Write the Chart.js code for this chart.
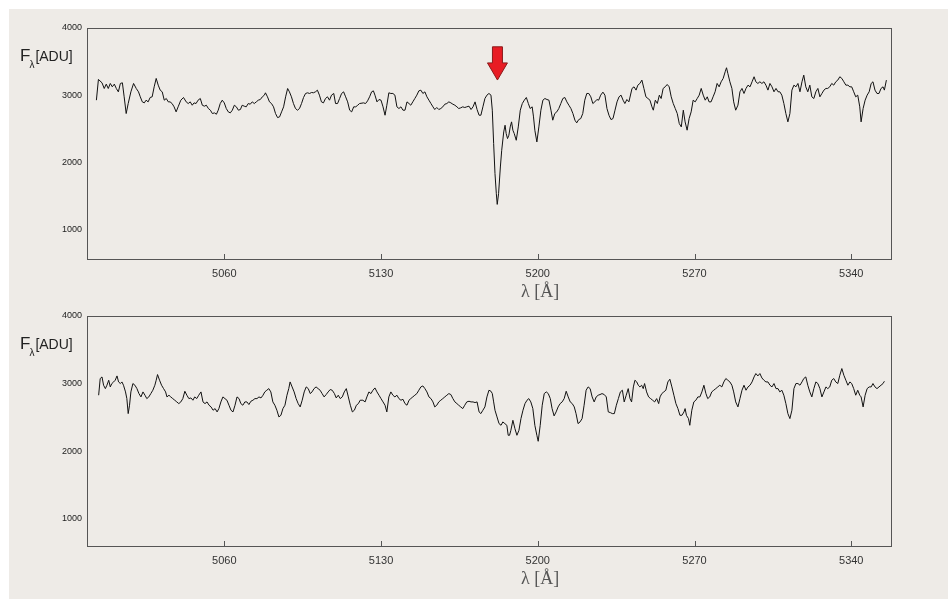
<!DOCTYPE html>
<html>
<head>
<meta charset="utf-8">
<script src="https://cdn.jsdelivr.net/npm/chart.js@4"></script>
<style>
  html, body { margin: 0; padding: 0; background: #fff; }
  #panel { position: absolute; left: 9px; top: 9px; width: 939px; height: 590px; background: #EEEBE7; }
  canvas { position: absolute; left: 9px; }
  .flab { position: absolute; left: 20px; font-family: "Liberation Sans", Arial, sans-serif; color: #222; line-height: 17px; white-space: nowrap; }
  .flab .f { font-size: 17px; }
  .flab .sub { font-size: 10px; position: relative; top: 7px; left: -1px; }
  .flab .u { font-size: 14px; }
  .xlab { position: absolute; left: 521px; font-family: "Liberation Serif", "Times New Roman", serif; font-size: 18px; color: #555; line-height: 18px; white-space: nowrap; }
</style>
</head>
<body>
<div id="panel"></div>
<canvas id="top" width="939" height="292" style="top:8px"></canvas>
<canvas id="bottom" width="939" height="291" style="top:296px"></canvas>
<div class="flab" style="top:47px"><span class="f">F</span><span class="sub">λ</span><span class="u">[ADU]</span></div>
<div class="flab" style="top:335px"><span class="f">F</span><span class="sub">λ</span><span class="u">[ADU]</span></div>
<div class="xlab" style="top:282px">λ [Å]</div>
<div class="xlab" style="top:569px">λ [Å]</div>
<script>
// axes
const xTicks = [5060, 5130, 5200, 5270, 5340];
const yTicks = [1000, 2000, 3000, 4000];
const xMin = 4998.7, xMax = 5358.2;
const topYMin = 545, bottomYMin = 580, yMax = 4000;

// marked line (red arrow in the upper panel)
const arrowLambda = 5182;
const arrowFlux = [3720, 3480, 3225]; // shaft top, head base, tip

// upper spectrum
const topWave = [
  5002.9,5003.8,5005.4,5006.4,5007.3,5008.2,5009.1,5010.0,5010.9,5011.8,5012.7,5013.6,5014.5,5015.3,5016.2,5017.1,
  5018.3,5019.5,5020.7,5021.7,5022.5,5023.4,5024.3,5025.1,5026.0,5026.9,5027.8,5028.7,5029.6,5030.5,5031.4,5032.3,
  5033.2,5034.1,5035.0,5035.8,5036.7,5037.6,5038.5,5039.4,5040.6,5041.8,5043.0,5043.9,5044.8,5045.7,5046.5,5047.4,
  5048.3,5049.3,5050.2,5051.1,5052.0,5052.9,5053.8,5054.7,5055.6,5056.5,5057.3,5058.2,5059.1,5060.0,5060.9,5061.8,
  5062.7,5063.6,5064.5,5065.4,5066.3,5067.2,5068.0,5068.9,5069.8,5070.7,5071.6,5072.5,5073.4,5074.3,5075.2,5076.1,
  5077.0,5077.9,5078.4,5079.3,5080.2,5081.1,5082.0,5082.9,5083.8,5084.7,5085.6,5086.5,5087.4,5088.3,5089.1,5090.0,
  5090.9,5091.8,5092.7,5093.6,5094.5,5095.4,5096.3,5097.2,5098.1,5099.0,5099.8,5100.7,5101.6,5102.5,5103.4,5104.3,
  5105.2,5106.1,5107.0,5107.9,5108.9,5109.7,5110.6,5111.5,5112.4,5113.3,5114.2,5115.1,5116.0,5116.9,5117.8,5118.7,
  5119.6,5120.4,5122.2,5123.1,5124.0,5124.9,5125.8,5126.6,5127.3,5128.2,5129.1,5130.0,5130.9,5131.8,5132.6,5133.5,
  5134.4,5135.3,5136.2,5137.1,5138.0,5138.9,5139.8,5140.7,5141.6,5142.5,5143.3,5144.2,5145.1,5146.0,5146.9,5147.8,
  5148.7,5149.6,5150.5,5151.4,5152.3,5153.2,5154.0,5154.9,5155.8,5156.7,5157.6,5158.5,5159.4,5160.3,5161.2,5162.1,
  5163.0,5163.9,5164.7,5165.6,5166.5,5167.4,5168.3,5169.3,5170.2,5171.1,5172.0,5172.9,5173.8,5174.6,5175.5,5176.4,
  5177.3,5178.2,5179.1,5179.7,5180.3,5180.9,5181.5,5181.9,5182.5,5183.3,5183.9,5184.8,5185.4,5185.9,5186.5,5187.1,
  5187.7,5188.3,5188.9,5189.5,5190.4,5191.3,5192.2,5193.1,5194.0,5194.9,5195.8,5196.6,5197.5,5198.1,5198.7,5199.6,
  5200.5,5201.4,5202.3,5203.2,5204.1,5205.0,5205.9,5206.7,5207.6,5208.5,5209.4,5210.3,5211.2,5212.1,5213.0,5213.9,
  5214.8,5215.7,5216.6,5217.4,5218.3,5219.2,5220.1,5221.0,5221.9,5222.8,5223.7,5224.6,5225.5,5226.4,5227.2,5228.1,
  5229.1,5230.0,5230.9,5231.8,5232.7,5233.6,5234.5,5235.4,5236.3,5237.2,5238.1,5238.9,5239.8,5240.7,5242.1,5243.0,
  5243.9,5244.7,5245.6,5246.5,5247.4,5248.3,5249.2,5250.1,5251.0,5251.6,5252.5,5253.4,5254.3,5255.1,5256.0,5256.9,
  5257.8,5258.7,5259.6,5260.5,5261.4,5262.3,5263.2,5264.1,5265.0,5265.8,5266.7,5267.6,5268.5,5269.4,5270.3,5271.2,
  5272.1,5273.0,5273.9,5274.8,5275.7,5276.5,5277.4,5278.3,5279.2,5280.1,5281.0,5281.9,5282.8,5283.7,5284.3,5284.9,
  5285.8,5286.7,5287.5,5288.4,5289.4,5290.3,5291.2,5292.1,5293.0,5293.9,5294.8,5295.7,5296.6,5297.4,5298.3,5299.2,
  5300.1,5301.0,5301.9,5302.8,5303.7,5304.6,5305.5,5306.4,5307.3,5308.1,5309.0,5309.9,5310.8,5311.7,5312.6,5313.5,
  5314.4,5315.3,5316.2,5317.1,5318.0,5318.8,5319.7,5320.6,5321.5,5322.4,5323.3,5324.2,5325.1,5326.0,5326.9,5327.8,
  5328.7,5329.5,5330.4,5331.3,5332.2,5333.1,5334.0,5334.9,5335.8,5336.7,5337.6,5338.5,5339.4,5340.2,5341.1,5342.0,
  5342.9,5343.8,5344.4,5345.3,5346.2,5347.1,5348.0,5348.9,5349.7,5350.6,5351.5,5352.4,5353.3,5354.2,5354.8,5355.7
];
const topFlux = [
  2925,3234,3184,3099,3164,3099,3174,3124,3164,3099,3049,3174,3184,2975,2726,2875,
  3049,3174,3099,3049,2975,2900,2885,2925,2900,2965,2975,3124,3249,3149,3074,3049,
  2925,2950,2900,2900,2875,2826,2751,2826,2925,2965,2900,2875,2900,2850,2885,2875,
  2925,2950,2850,2836,2850,2801,2776,2726,2736,2716,2776,2875,2925,2885,2801,2751,
  2736,2776,2850,2826,2776,2786,2850,2836,2826,2875,2865,2900,2875,2900,2925,2935,
  2975,3000,3035,2975,2900,2875,2826,2726,2666,2676,2751,2826,2975,3099,3049,2975,
  2875,2801,2776,2801,2875,2965,3025,3035,3025,3040,3035,3049,3074,3000,2900,2885,
  2950,2975,2925,3000,3025,2875,2875,2950,3025,3049,2975,2900,2776,2751,2826,2826,
  2850,2875,2885,2875,2915,2975,3049,3064,3000,2900,2935,2925,2826,2701,2850,3035,
  3025,3025,3000,2826,2801,2826,2776,2776,2900,2875,2850,2900,2950,3000,3064,3074,
  3025,3049,2975,2925,2875,2826,2786,2816,2786,2801,2826,2865,2875,2900,2885,2865,
  2850,2826,2801,2811,2826,2816,2826,2836,2786,2826,2900,2786,2701,2701,2826,2950,
  3000,3025,3000,2776,2278,1831,1532,1373,1532,1930,2179,2452,2552,2428,2353,2403,
  2527,2602,2477,2428,2328,2527,2776,2875,2925,2965,2875,2801,2826,2676,2477,2303,
  2527,2776,2925,2950,2935,2925,2776,2627,2726,2751,2801,2875,2950,2965,2900,2850,
  2801,2726,2627,2587,2636,2651,2726,2925,3025,3025,2975,2875,2900,2935,2925,3000,
  3045,3000,2801,2701,2636,2651,2776,2900,2975,3000,2925,2875,2935,2900,3100,3124,
  3075,3149,3174,3224,3100,2975,2950,2925,2826,2776,2925,2876,3000,2950,3100,3124,
  3159,3124,2975,2876,2801,2726,2577,2527,2776,2602,2478,2652,2751,2925,2900,2950,
  3000,3100,3000,2925,2975,2900,2900,2975,3050,3174,3124,3199,3249,3348,3408,3323,
  3199,3100,2900,2776,2851,3050,3100,3025,3100,3149,3124,3199,3274,3199,3174,3199,
  3174,3199,3149,3075,3174,3124,3050,3100,3050,3050,3000,2876,2726,2602,2726,3075,
  3149,3124,3174,3050,3199,3298,3124,3050,3149,2975,2950,3050,3100,2975,3025,3075,
  3100,3100,3124,3174,3149,3199,3224,3274,3249,3199,3149,3149,3124,3124,3050,2975,
  3000,2826,2602,2801,2925,3000,3050,3174,3199,3075,3025,3025,3100,3124,3075,3224
];

// lower spectrum
const bottomWave = [
  5003.9,5004.6,5005.4,5006.1,5006.9,5007.6,5008.4,5009.1,5009.8,5010.6,5011.3,5012.1,5012.8,5013.6,5014.3,5015.0,
  5015.9,5016.5,5017.1,5017.7,5018.3,5019.2,5020.1,5021.0,5021.9,5022.8,5023.7,5024.6,5025.4,5026.3,5027.2,5028.1,
  5029.0,5029.6,5030.2,5031.1,5032.0,5032.9,5033.8,5034.4,5035.3,5036.1,5037.0,5037.9,5038.8,5039.7,5040.6,5041.5,
  5042.4,5043.3,5044.2,5045.1,5046.0,5046.8,5047.7,5048.6,5049.6,5050.5,5051.4,5052.3,5053.2,5054.1,5055.0,5055.9,
  5056.8,5057.6,5058.5,5059.4,5060.3,5061.2,5062.1,5063.0,5063.9,5064.8,5065.7,5066.6,5067.4,5068.3,5069.2,5070.1,
  5071.0,5071.9,5072.8,5073.7,5074.6,5075.5,5076.4,5077.3,5078.1,5079.0,5079.9,5080.8,5081.7,5082.6,5083.5,5084.4,
  5085.3,5086.2,5087.1,5088.0,5088.8,5089.4,5090.3,5091.2,5092.1,5093.0,5093.9,5094.8,5095.7,5096.6,5097.5,5098.4,
  5099.2,5100.1,5101.0,5101.9,5102.8,5103.7,5104.6,5105.5,5106.4,5107.3,5108.2,5109.2,5110.0,5110.9,5111.8,5112.7,
  5113.6,5114.5,5115.4,5116.3,5117.2,5118.1,5119.0,5119.9,5120.7,5121.9,5122.9,5123.7,5124.6,5125.5,5126.4,5127.3,
  5128.2,5129.1,5130.0,5130.9,5131.8,5132.6,5133.5,5134.4,5135.3,5136.2,5137.1,5138.0,5138.9,5139.8,5140.7,5141.6,
  5142.5,5143.3,5144.2,5145.1,5146.0,5146.9,5147.8,5148.7,5149.6,5150.5,5151.4,5152.3,5153.2,5154.0,5154.9,5155.8,
  5156.7,5157.6,5158.5,5159.4,5160.3,5161.2,5162.1,5163.0,5163.9,5164.7,5165.6,5166.5,5167.4,5168.3,5169.3,5170.2,
  5171.1,5172.0,5172.9,5173.8,5174.6,5175.5,5176.4,5177.3,5178.2,5179.1,5179.7,5180.3,5180.9,5181.8,5182.7,5183.6,
  5184.4,5185.3,5186.2,5186.8,5187.4,5188.0,5188.9,5189.8,5190.7,5191.6,5192.5,5193.4,5194.3,5195.2,5196.0,5196.9,
  5197.8,5198.7,5199.6,5200.2,5201.1,5202.0,5202.9,5203.8,5204.7,5205.6,5206.4,5207.3,5208.2,5209.1,5210.0,5210.9,
  5211.8,5212.7,5213.6,5214.5,5215.4,5216.3,5217.1,5218.0,5218.9,5219.8,5220.7,5221.6,5222.5,5223.4,5224.3,5225.2,
  5226.1,5227.0,5227.8,5228.7,5229.7,5230.6,5231.5,5232.4,5233.3,5234.2,5235.1,5236.0,5236.9,5237.8,5238.6,5239.5,
  5240.4,5241.2,5241.9,5242.7,5243.4,5244.2,5244.9,5245.6,5246.4,5247.1,5247.7,5248.6,5249.5,5250.4,5251.3,5252.2,
  5253.1,5254.0,5254.6,5255.4,5256.3,5257.2,5258.1,5259.0,5259.9,5260.8,5261.7,5262.6,5263.5,5264.4,5265.3,5265.8,
  5266.4,5267.3,5267.9,5268.8,5269.7,5270.6,5271.5,5272.4,5273.3,5274.2,5275.1,5275.9,5276.8,5277.7,5278.6,5279.5,
  5280.4,5281.3,5282.2,5283.1,5284.0,5284.9,5285.8,5286.7,5287.5,5288.4,5289.4,5290.3,5291.2,5292.1,5293.0,5293.9,
  5294.8,5295.7,5296.6,5297.4,5298.3,5299.2,5300.1,5301.0,5301.9,5302.8,5303.7,5304.6,5305.5,5306.4,5307.3,5308.1,
  5309.0,5309.9,5310.8,5311.7,5312.6,5313.5,5314.4,5315.3,5316.2,5317.1,5318.0,5318.8,5319.7,5320.6,5321.5,5322.4,
  5323.3,5324.2,5325.1,5326.0,5326.9,5327.8,5328.7,5329.5,5330.4,5331.3,5332.2,5333.1,5334.0,5334.9,5335.8,5336.7,
  5337.6,5338.5,5339.4,5340.2,5341.1,5342.0,5342.9,5343.8,5344.4,5345.3,5346.2,5347.1,5348.0,5348.9,5349.7,5350.6,
  5351.5,5352.4,5353.3,5354.2,5354.8
];
const bottomFlux = [
  2827,3074,3098,2975,2925,2975,3049,2950,3000,3024,3049,3113,3024,3000,3024,2975,
  2876,2777,2555,2679,2876,3000,2975,2925,2851,2802,2876,2827,2777,2802,2851,2901,
  2975,3049,3133,3049,2975,2925,2876,2802,2827,2802,2777,2753,2728,2703,2728,2777,
  2886,2827,2777,2787,2753,2802,2777,2827,2876,2728,2703,2728,2679,2654,2605,2629,
  2580,2629,2728,2802,2777,2753,2679,2605,2580,2679,2802,2777,2703,2679,2728,2728,
  2689,2738,2753,2777,2777,2802,2787,2827,2876,2901,2925,2876,2728,2679,2605,2506,
  2530,2629,2679,2827,2925,3024,2950,2876,2777,2703,2654,2753,2876,2950,2925,2851,
  2876,2925,2950,2925,2901,2851,2802,2837,2876,2911,2901,2851,2787,2827,2777,2802,
  2876,2925,2802,2679,2580,2605,2679,2703,2753,2753,2728,2802,2876,2851,2901,2935,
  2876,2827,2777,2728,2679,2580,2802,2876,2827,2802,2827,2777,2753,2767,2703,2679,
  2753,2777,2802,2827,2851,2901,2950,2965,2925,2876,2802,2777,2728,2654,2679,2728,
  2753,2777,2802,2827,2851,2837,2777,2728,2703,2679,2654,2629,2679,2728,2738,2728,
  2728,2718,2728,2580,2555,2605,2654,2802,2901,2886,2851,2728,2605,2506,2407,2382,
  2432,2407,2382,2234,2234,2308,2456,2333,2234,2308,2481,2605,2703,2753,2777,2728,
  2629,2382,2234,2145,2382,2679,2851,2876,2851,2777,2629,2521,2580,2654,2703,2728,
  2777,2886,2802,2728,2703,2654,2555,2407,2432,2481,2679,2901,2950,2925,2802,2728,
  2802,2827,2837,2851,2837,2802,2580,2570,2555,2555,2679,2777,2876,2901,2728,2827,
  2925,2777,2728,2950,3049,3024,2975,2950,2975,2925,3000,2876,2802,2777,2753,2728,
  2777,2703,2802,2851,2876,2901,3024,3064,2950,2827,2703,2629,2530,2530,2580,2629,
  2530,2481,2382,2605,2728,2753,2802,2802,2876,2975,2851,2777,2802,2876,2901,2925,
  2950,2975,2950,3024,3074,3049,3024,2975,2876,2728,2654,2777,2901,2975,2901,2950,
  2975,3024,3098,3148,3113,3148,3083,3049,3024,3024,2975,2950,3000,2925,2925,2876,
  2901,2827,2703,2555,2481,2605,2925,3000,3000,2975,3024,3074,3098,2975,2876,2802,
  2925,3024,3000,2925,2802,2876,2950,2925,2950,3049,3074,3024,3000,3123,3222,3123,
  3049,2975,3024,3000,2925,2827,2901,2827,2802,2654,2827,2925,2950,2950,3000,2950,
  2925,2950,2975,3000,3034
];

// plot frame and inward x tick marks
const framePlugin = {
  id: 'frame',
  afterDraw(chart) {
    const {ctx, chartArea: a, scales} = chart;
    ctx.save();
    ctx.strokeStyle = '#555';
    ctx.lineWidth = 1;
    ctx.strokeRect(a.left + 0.5, a.top + 0.5, a.right - a.left - 1, a.bottom - a.top - 1);
    ctx.beginPath();
    scales.x.ticks.forEach(t => {
      const px = Math.round(scales.x.getPixelForValue(t.value)) + 0.5;
      ctx.moveTo(px, a.bottom);
      ctx.lineTo(px, a.bottom - 6);
    });
    ctx.stroke();
    ctx.restore();
  }
};

const arrowPlugin = {
  id: 'arrow',
  afterDraw(chart) {
    const {ctx, scales: {x, y}} = chart;
    const cx = x.getPixelForValue(arrowLambda);
    const y0 = y.getPixelForValue(arrowFlux[0]);
    const y1 = y.getPixelForValue(arrowFlux[1]);
    const y2 = y.getPixelForValue(arrowFlux[2]);
    ctx.save();
    ctx.beginPath();
    ctx.moveTo(cx - 5, y0);
    ctx.lineTo(cx + 5, y0);
    ctx.lineTo(cx + 5, y1);
    ctx.lineTo(cx + 10, y1);
    ctx.lineTo(cx, y2);
    ctx.lineTo(cx - 10, y1);
    ctx.lineTo(cx - 5, y1);
    ctx.closePath();
    ctx.fillStyle = '#E81C24';
    ctx.fill();
    ctx.strokeStyle = '#8a1a1a';
    ctx.lineWidth = 1;
    ctx.stroke();
    ctx.restore();
  }
};

function makeChart(id, wave, flux, yMin, extra) {
  const pts = wave.map((w, i) => ({x: w, y: flux[i]}));
  return new Chart(document.getElementById(id), {
    type: 'line',
    data: {
      datasets: [{
        data: pts,
        borderColor: '#111',
        borderWidth: 1,
        pointRadius: 0,
        tension: 0,
        fill: false
      }]
    },
    options: {
      responsive: false,
      animation: false,
      devicePixelRatio: 1,
      layout: {padding: {top: 20, right: 56, left: 0, bottom: 0}},
      plugins: {legend: {display: false}, tooltip: {enabled: false}},
      scales: {
        x: {
          type: 'linear',
          min: xMin,
          max: xMax,
          afterBuildTicks: s => { s.ticks = xTicks.map(v => ({value: v})); },
          afterFit: s => { s.height = 40; },
          grid: {display: false, drawTicks: false},
          border: {display: false},
          ticks: {
            padding: 7,
            color: '#333',
            font: {family: 'Liberation Sans', size: 11},
            callback: v => String(v)
          }
        },
        y: {
          min: yMin,
          max: yMax,
          afterBuildTicks: s => { s.ticks = yTicks.map(v => ({value: v})); },
          afterFit: s => { s.width = 78; },
          grid: {display: false, drawTicks: false},
          border: {display: false},
          ticks: {
            padding: 5,
            color: '#222',
            font: {family: 'Liberation Sans', size: 9},
            callback: v => String(v)
          }
        }
      }
    },
    plugins: extra ? [framePlugin, arrowPlugin] : [framePlugin]
  });
}

makeChart('top', topWave, topFlux, topYMin, true);
makeChart('bottom', bottomWave, bottomFlux, bottomYMin, false);
</script>
</body>
</html>
